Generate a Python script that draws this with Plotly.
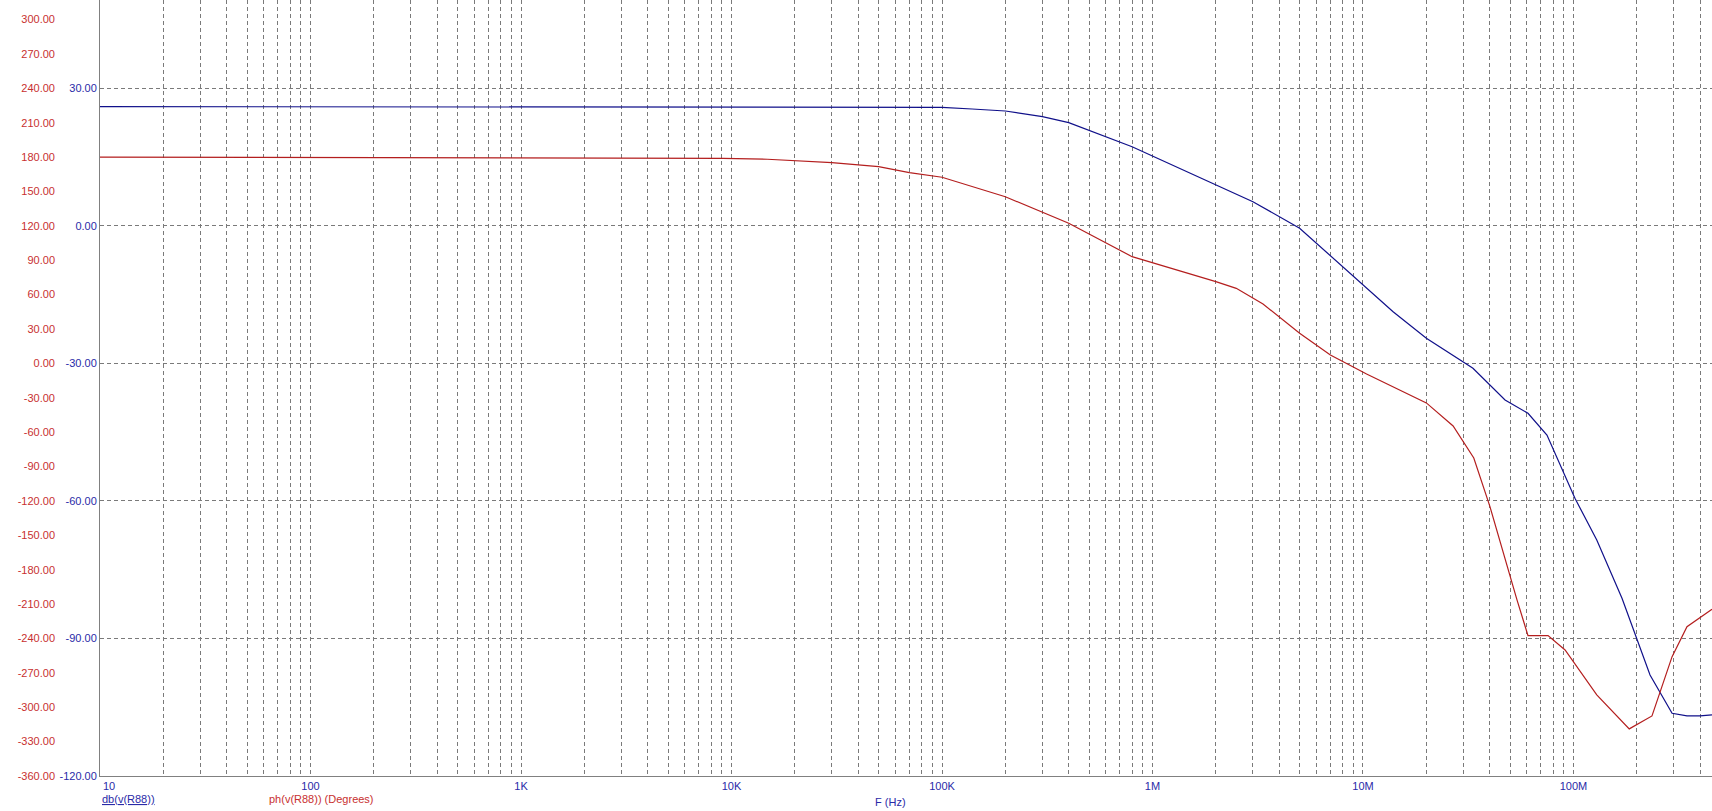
import plotly.graph_objects as go

# ---- data ----
mag_freq = [10, 74.5e3, 100e3, 139e3, 200e3, 300e3, 400e3, 800e3, 2e6, 3e6, 5e6, 8e6,
            13.9e6, 20e6, 33.3e6, 47.3e6, 60.8e6, 74.8e6, 101.6e6, 129e6, 170e6, 231e6,
            294e6, 346e6, 399e6, 455e6]
mag_db = [26.0, 26.0, 25.85, 25.49, 25.05, 23.81, 22.50, 17.26, 8.91, 5.27, -0.53, -8.91,
          -18.72, -24.53, -31.07, -37.98, -40.88, -45.62, -59.42, -68.52, -81.23, -97.96,
          -106.31, -106.9, -106.9, -106.68]

ph_freq = [10, 4.57e3, 9.1e3, 14.8e3, 20e3, 30e3, 50e3, 70e3, 100e3, 200e3, 400e3, 800e3,
           2e6, 2.5e6, 3.35e6, 5e6, 7e6, 10.4e6, 20e6, 26.8e6, 33.6e6, 40.1e6, 53.9e6,
           60.8e6, 75.7e6, 91.2e6, 129e6, 184e6, 236e6, 294e6, 346e6, 455e6]
ph_deg = [180.0, 179.5, 178.9, 178.1, 176.6, 175.1, 171.6, 166.4, 162.4, 145.4, 122.2, 93.1,
          71.3, 65.5, 51.8, 26.3, 7.3, -9.2, -34.5, -54.6, -82.5, -125.0, -206.4,
          -237.5, -237.5, -250.0, -289.3, -318.9, -307.6, -255.9, -229.7, -214.5]

db_ticks = [-120, -90, -60, -30, 0, 30]
deg_ticks = [-360, -330, -300, -270, -240, -210, -180, -150, -120, -90, -60, -30,
             0, 30, 60, 90, 120, 150, 180, 210, 240, 270, 300]
decades = [10, 100, 1e3, 1e4, 1e5, 1e6, 1e7, 1e8, 1e9]
decade_labels = ["", "100", "1K", "10K", "100K", "1M", "10M", "100M", "1G"]

BLUE_TXT = "#2a2aa8"
RED_TXT = "#c83030"
BLUE_LINE = "#10108a"
RED_LINE = "#b41e1e"
GRID = "#7a7a7a"
FONT = "Liberation Sans"

W, H = 1712, 811
L_PX, B_PX = 100, 35
PLOT_H = H - B_PX

x_tickvals, x_ticktext = [], []
for d, lab in zip(decades, decade_labels):
    for k in range(1, 10):
        x_tickvals.append(d * k)
        x_ticktext.append(lab if k == 1 else "")

fig = go.Figure()
fig.add_trace(go.Scatter(x=mag_freq, y=mag_db, mode="lines",
                         line=dict(color=BLUE_LINE, width=1.2), yaxis="y",
                         name="db(v(R88))", showlegend=False))
fig.add_trace(go.Scatter(x=ph_freq, y=ph_deg, mode="lines",
                         line=dict(color=RED_LINE, width=1.2), yaxis="y2",
                         name="ph(v(R88))", showlegend=False))

top_db = 49.26
fig.update_layout(
    width=W, height=H,
    margin=dict(l=0, r=0, t=0, b=B_PX, autoexpand=False),
    paper_bgcolor="white", plot_bgcolor="white",
    font=dict(family=FONT, size=11),
    xaxis=dict(type="log", range=[1, 8.658], domain=[L_PX / W, 1],
               tickvals=x_tickvals, ticktext=x_ticktext, automargin=False,
               tickfont=dict(color=BLUE_TXT, size=11, family=FONT),
               showgrid=True, gridcolor=GRID, griddash="4px,3px", gridwidth=1,
               showline=True, linecolor="#808080", linewidth=1,
               ticks="", zeroline=False),
    yaxis=dict(range=[-120, top_db], tickvals=db_ticks, automargin=False,
               ticktext=["%.2f" % v for v in db_ticks],
               tickfont=dict(color=BLUE_TXT, size=11, family=FONT),
               showgrid=True, gridcolor=GRID, griddash="4px,3px", gridwidth=1,
               showline=True, linecolor="#808080", linewidth=1,
               ticks="", zeroline=False),
    yaxis2=dict(range=[-360, 120 + 4 * top_db], overlaying="y", anchor="free",
                position=55 / W, side="left", tickvals=deg_ticks, automargin=False,
                ticktext=["%.2f" % v for v in deg_ticks],
                tickfont=dict(color=RED_TXT, size=11, family=FONT),
                showgrid=False, showline=False, ticks="", zeroline=False),
)

def py(pix):
    return (PLOT_H - pix) / PLOT_H

fig.add_annotation(x=1, xref="x", y=py(778), yref="paper", text="10", showarrow=False,
                   xanchor="left", yanchor="top", xshift=1,
                   font=dict(color=BLUE_TXT, size=11, family=FONT))
fig.add_annotation(x=100 / W, xref="paper", y=py(799), yref="paper",
                   text="<u>db(v(R88))</u>", showarrow=False, xanchor="left",
                   yanchor="middle", font=dict(color=BLUE_TXT, size=11, family=FONT))
fig.add_annotation(x=267 / W, xref="paper", y=py(799), yref="paper",
                   text="ph(v(R88)) (Degrees)", showarrow=False, xanchor="left",
                   yanchor="middle", font=dict(color=RED_TXT, size=11, family=FONT))
fig.add_annotation(x=873 / W, xref="paper", y=py(810), yref="paper",
                   text="F (Hz)", showarrow=False, xanchor="left",
                   yanchor="bottom", font=dict(color=BLUE_TXT, size=11, family=FONT))

fig.write_html(
    "out.html",
    config={"displayModeBar": False},
    post_script="document.body.style.margin='0px';document.body.style.overflow='hidden';",
)
